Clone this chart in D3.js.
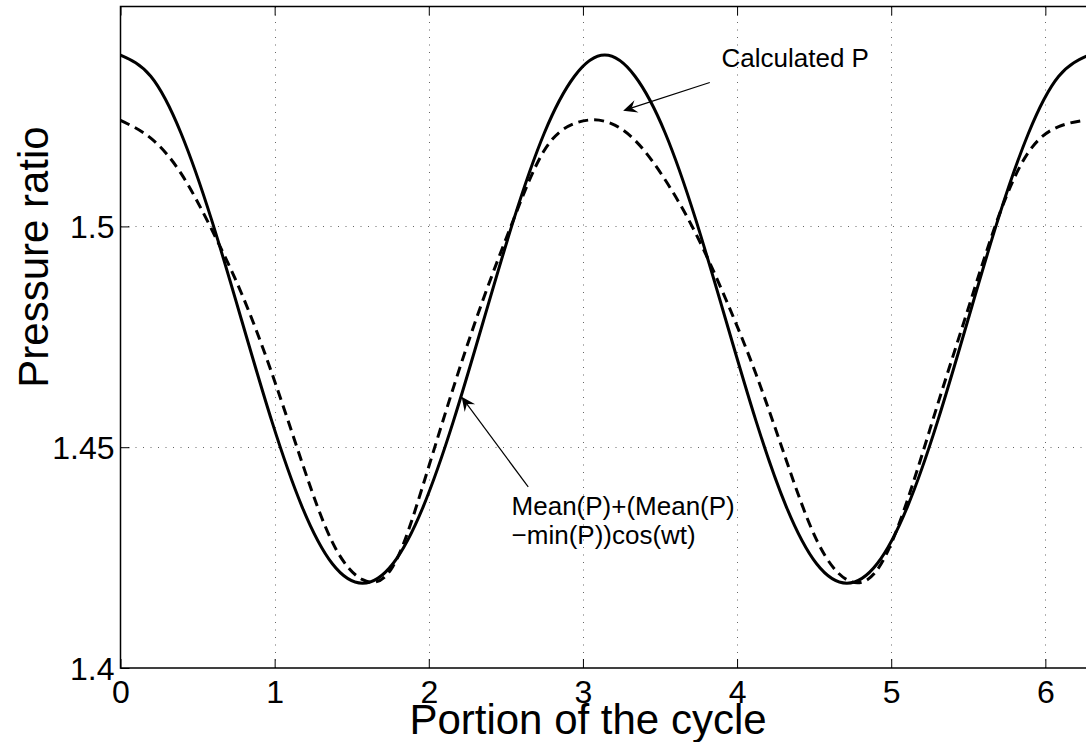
<!DOCTYPE html>
<html>
<head>
<meta charset="utf-8">
<script src="https://cdn.jsdelivr.net/npm/d3@7"></script>
<style>
  html, body { margin: 0; padding: 0; background: #fff; }
  svg { display: block; }
  text { font-family: "Liberation Sans", Arial, Helvetica, sans-serif; fill: #000; }
</style>
</head>
<body>
<svg id="chart" width="1086" height="742"></svg>
<script>
// ---- data (x in steps of pi/16) ----
const xValues = [0.0000, 0.1963, 0.3927, 0.5890, 0.7854, 0.9817, 1.1781, 1.3744, 1.5708,
                 1.7671, 1.9635, 2.1598, 2.3562, 2.5525, 2.7489, 2.9452, 3.1416,
                 3.3379, 3.5343, 3.7306, 3.9270, 4.1233, 4.3197, 4.5160, 4.7124,
                 4.9087, 5.1051, 5.3014, 5.4978, 5.6941, 5.8905, 6.0868, 6.2832];
const calculatedP = [1.5388, 1.5340, 1.5211, 1.5017, 1.4788, 1.4559, 1.4365, 1.4236, 1.4192,
                     1.4236, 1.4365, 1.4559, 1.4788, 1.5017, 1.5211, 1.5340, 1.5388,
                     1.5340, 1.5211, 1.5017, 1.4788, 1.4559, 1.4365, 1.4236, 1.4192,
                     1.4236, 1.4365, 1.4559, 1.4788, 1.5017, 1.5211, 1.5340, 1.5388];
const cosineFit = [1.5240, 1.5200, 1.5120, 1.4995, 1.4848, 1.4668, 1.4465, 1.4285, 1.4200,
                   1.4230, 1.4415, 1.4635, 1.4838, 1.5018, 1.5172, 1.5233, 1.5238,
                   1.5195, 1.5105, 1.4985, 1.4835, 1.4665, 1.4470, 1.4290, 1.4200,
                   1.4222, 1.4380, 1.4597, 1.4812, 1.5020, 1.5168, 1.5226, 1.5242];
const xTicks = [0, 1, 2, 3, 4, 5, 6];
const yTicks = [1.4, 1.45, 1.5];
const xTickLabels = ["0", "1", "2", "3", "4", "5", "6"];
const yTickLabels = ["1.4", "1.45", "1.5"];
const xLabel = "Portion of the cycle";
const yLabel = "Pressure ratio";
const annoCalc = { text: ["Calculated P"], tx: 3.899, ty: 1.5360, from: [3.823, 1.5326], to: [3.261, 1.5262] };
const annoFit  = { text: ["Mean(P)+(Mean(P)", "\u2212min(P))cos(wt)"], tx: 2.537, ty: 1.4346, from: [2.645, 1.4410], to: [2.213, 1.4614] };

// ---- layout ----
const svg = d3.select("#chart");
const mLeft = 120.5, mRight = 1089, mTop = 6.5, mBottom = 668;
const x = d3.scaleLinear().domain([0, 6.2832]).range([mLeft, mRight]);
const y = d3.scaleLinear().domain([1.4, 1.5498]).range([mBottom, mTop]);

// grid
const grid = svg.append("g").attr("stroke", "#666").attr("stroke-width", 1).attr("stroke-dasharray", "1,6.5");
grid.selectAll("line.gx").data(xTicks.filter(d => d > 0)).join("line")
  .attr("x1", d => Math.round(x(d)) + 0.5).attr("x2", d => Math.round(x(d)) + 0.5)
  .attr("y1", mBottom).attr("y2", mTop);
grid.selectAll("line.gy").data(yTicks.filter(d => d > 1.4)).join("line")
  .attr("x1", mLeft).attr("x2", mRight)
  .attr("y1", d => Math.round(y(d)) + 0.5).attr("y2", d => Math.round(y(d)) + 0.5);

// data lines
const line = d3.line().x((d, i) => x(xValues[i])).y(d => y(d)).curve(d3.curveNatural);
svg.append("path").datum(cosineFit).attr("d", line)
  .attr("fill", "none").attr("stroke", "#000").attr("stroke-width", 3)
  .attr("stroke-dasharray", "10,6");
svg.append("path").datum(calculatedP).attr("d", line)
  .attr("fill", "none").attr("stroke", "#000").attr("stroke-width", 3);

// axes box
svg.append("rect").attr("x", mLeft).attr("y", mTop).attr("width", mRight - mLeft).attr("height", mBottom - mTop)
  .attr("fill", "none").attr("stroke", "#000").attr("stroke-width", 1.5);

// axes with inward ticks
const xAxisB = d3.axisBottom(x).tickValues(xTicks).tickSize(-9).tickPadding(14)
  .tickFormat((d, i) => xTickLabels[i]);
const gxB = svg.append("g").attr("transform", `translate(0,${mBottom})`).call(xAxisB);
const xAxisT = d3.axisTop(x).tickValues(xTicks).tickSize(-9).tickFormat("");
const gxT = svg.append("g").attr("transform", `translate(0,${mTop})`).call(xAxisT);
const yAxisL = d3.axisLeft(y).tickValues(yTicks).tickSize(-9).tickPadding(14)
  .tickFormat((d, i) => yTickLabels[i]);
const gyL = svg.append("g").attr("transform", `translate(${mLeft},0)`).call(yAxisL);
[gxB, gxT, gyL].forEach(g => {
  g.select(".domain").remove();
  g.selectAll(".tick line").attr("stroke", "#000").attr("stroke-width", 1);
  g.selectAll("text").attr("font-family", "'Liberation Sans', Arial, sans-serif").attr("font-size", 32).attr("fill", "#000");
});
gxB.selectAll(".tick text").attr("dy", "0.71em").attr("y", 12);
gyL.selectAll(".tick text").attr("dy", "0.35em").attr("x", -6);

// axis labels
svg.append("text").attr("x", 588).attr("y", 734).attr("text-anchor", "middle")
  .attr("font-size", 42).text(xLabel);
svg.append("text").attr("transform", "translate(48,257) rotate(-90)").attr("text-anchor", "middle")
  .attr("font-size", 42).text(yLabel);

// annotations
function arrow(a) {
  const x0 = x(a.from[0]), y0 = y(a.from[1]), x1 = x(a.to[0]), y1 = y(a.to[1]);
  const dx = x1 - x0, dy = y1 - y0, len = Math.hypot(dx, dy);
  const ux = dx / len, uy = dy / len, nx = -uy, ny = ux;
  const L = 14, W = 6.5, N = 9;
  svg.append("line").attr("x1", x0).attr("y1", y0).attr("x2", x1 - ux * N).attr("y2", y1 - uy * N)
    .attr("stroke", "#000").attr("stroke-width", 1.2);
  const p = [[x1, y1], [x1 - ux * L + nx * W, y1 - uy * L + ny * W], [x1 - ux * N, y1 - uy * N],
             [x1 - ux * L - nx * W, y1 - uy * L - ny * W]];
  svg.append("path").attr("d", "M" + p.map(q => q.join(",")).join("L") + "Z").attr("fill", "#000");
}
function label(a) {
  const t = svg.append("text").attr("x", x(a.tx)).attr("y", y(a.ty)).attr("font-size", 26);
  a.text.forEach((s, i) => t.append("tspan").attr("x", x(a.tx)).attr("dy", i === 0 ? 0 : 28.5).text(s));
}
arrow(annoCalc); label(annoCalc);
arrow(annoFit); label(annoFit);
</script>
</body>
</html>
